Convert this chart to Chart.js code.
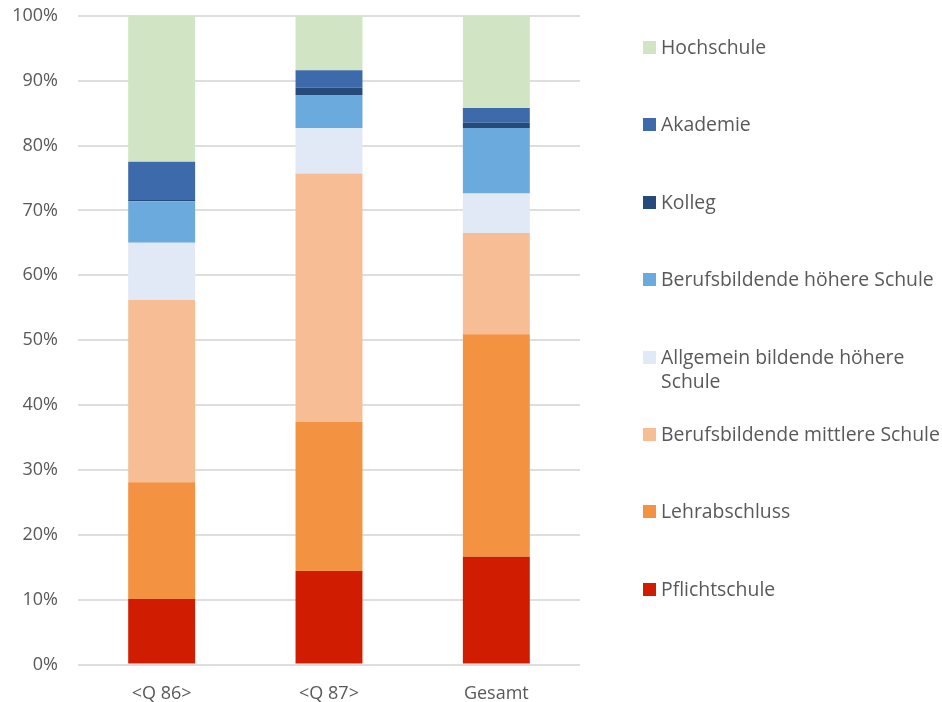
<!DOCTYPE html>
<html>
<head>
<meta charset="utf-8">
<script src="https://cdn.jsdelivr.net/npm/chart.js@4"></script>
<style>
  html, body { margin: 0; padding: 0; background: #fff; overflow: hidden; }
  #wrap { position: relative; width: 942px; height: 702px; overflow: hidden; }
  #c { position: absolute; left: 0; top: -15px; }
  #legend { position: absolute; left: 643px; top: 0; font-family: "Open Sans", sans-serif; font-size: 19.4px; color: #595959; }
  .item { position: absolute; left: 0; width: 300px; display: flex; align-items: flex-start; }
  .sw { width: 13px; height: 13px; margin-top: 6px; margin-right: 5px; flex: none; }
  .lbl { line-height: 24px; white-space: nowrap; }
</style>
</head>
<body>
<div id="wrap">
  <canvas id="c" width="942" height="717"></canvas>
  <div id="legend"></div>
</div>
<script>
(function () {
    'use strict';

    const categories = ['<Q 86>', '<Q 87>', 'Gesamt'];
    const seriesNames = ['Pflichtschule', 'Lehrabschluss', 'Berufsbildende mittlere Schule', 'Allgemein bildende höhere Schule', 'Berufsbildende höhere Schule', 'Kolleg', 'Akademie', 'Hochschule'];
    const pflichtschule = [10.1, 14.4, 16.6];
    const lehrabschluss = [18.0, 23.0, 34.3];
    const bms = [28.1, 38.3, 15.6];
    const ahs = [8.8, 7.0, 6.1];
    const bhs = [6.4, 5.1, 10.1];
    const kolleg = [0.2, 1.1, 0.8];
    const akademie = [5.9, 2.7, 2.3];
    const hochschule = [22.5, 8.4, 14.2];
    const yTicks = [0, 10, 20, 30, 40, 50, 60, 70, 80, 90, 100];

    const COLORS = ['#d01c00', '#f39240', '#f7be96', '#e1e8f6', '#6aaadc', '#264a7a', '#3c6aab', '#d1e5c4'];
    const values = [pflichtschule, lehrabschluss, bms, ahs, bhs, kolleg, akademie, hochschule];
    const TXT = '#595959';
    const FONT = '"Open Sans", sans-serif';

    const datasets = seriesNames.map((n, i) => ({
        label: n, data: values[i], backgroundColor: COLORS[i],
        borderWidth: 0, barPercentage: 0.4, categoryPercentage: 1
    }));

    const chart = new Chart(document.getElementById('c'), {
        type: 'bar',
        data: { labels: categories, datasets: datasets },
        options: {
            responsive: false, animation: false,
            layout: { padding: { top: 0, right: 362, left: 0, bottom: 0 } },
            plugins: { legend: { display: false }, tooltip: { enabled: false } },
            scales: {
                x: {
                    stacked: true,
                    grid: { display: false }, border: { display: false },
                    ticks: { color: TXT, font: { family: FONT, size: 18 }, padding: 11 },
                    afterFit: s => { s.height = 37.5; }
                },
                y: {
                    stacked: true, min: 0, max: 100,
                    afterBuildTicks: s => { s.ticks = yTicks.map(v => ({ value: v })); },
                    grid: { color: '#dedede', lineWidth: 2, drawTicks: false },
                    border: { display: false },
                    ticks: { color: TXT, font: { family: FONT, size: 18 }, padding: 20, callback: v => v + '%' },
                    afterFit: s => { s.width = 78; }
                }
            }
        }
    });

    // legend, reversed order like the original
    const lg = document.getElementById('legend');
    const shown = seriesNames.map((n, i) => i).reverse();
    const lblText = { 'Allgemein bildende höhere Schule': 'Allgemein bildende höhere<br>Schule' };
    shown.forEach((idx, k) => {
        const d = document.createElement('div');
        d.className = 'item';
        d.style.top = (35 + k * 77.4) + 'px';
        const name = chart.data.datasets[idx].label;
        d.innerHTML = '<span class="sw" style="background:' + COLORS[idx] + '"></span><span class="lbl">' + (lblText[name] || name) + '</span>';
        lg.appendChild(d);
    });
})();
</script>
</body>
</html>
